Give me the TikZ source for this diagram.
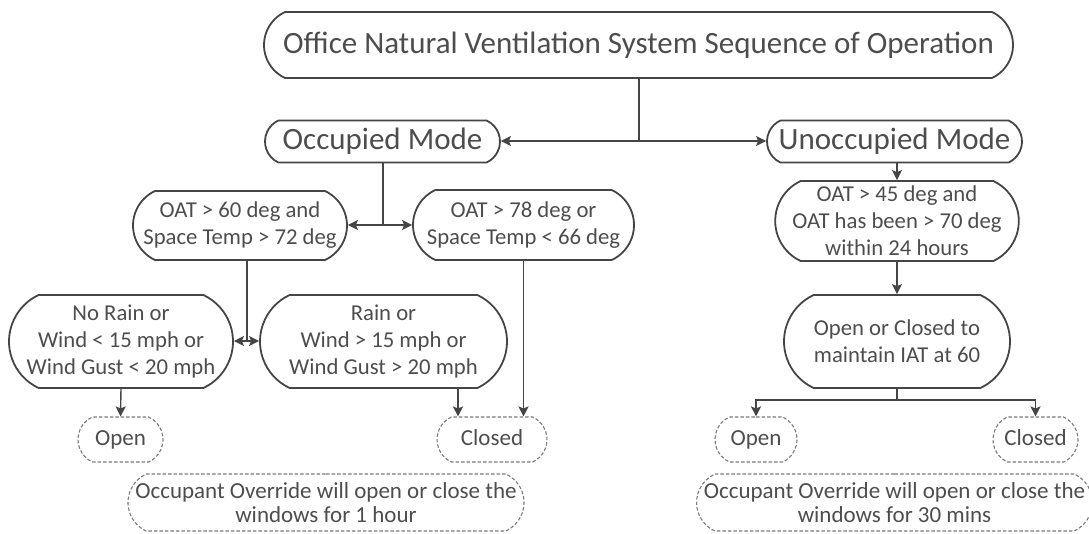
\documentclass[tikz,border=0pt]{standalone}
\usepackage{fontspec}
\setmainfont{Carlito}
\usetikzlibrary{shapes.misc,arrows.meta}
\definecolor{ln}{HTML}{454545}
\definecolor{tx}{HTML}{4D4D4D}
\definecolor{dsh}{HTML}{7A7A7A}
\begin{document}
\begin{tikzpicture}[x=1pt,y=-1pt,
  box/.style={rounded rectangle, rounded rectangle arc length=130, draw=ln, line width=1.8pt,
    text=tx, inner sep=0pt, align=center},
  dbox/.style={rounded rectangle, rounded rectangle arc length=130, draw=dsh,
    dash pattern=on 3.5pt off 2pt, line width=1.1pt, text=tx, inner sep=0pt, align=center},
  big/.style={font=\fontsize{31}{34}\selectfont},
  small/.style={font=\fontsize{22.7}{27}\selectfont},
  mid/.style={font=\fontsize{23}{24}\selectfont},
  con/.style={draw=ln, line width=1.4pt},
  arr/.style={con, -{Stealth[length=10pt,width=10pt,inset=2pt]}},
]
\useasboundingbox (0,0) rectangle (1089,533);

% nodes
\node[box, big, minimum width=749pt, minimum height=66pt] (title) at (638.5,45)
  {Office Natural Ventilation System Sequence of Operation};
\node[box, big, minimum width=235pt, minimum height=42pt] (occ) at (382.5,141.5) {Occupied Mode};
\node[box, big, minimum width=255pt, minimum height=42pt] (unocc) at (894.5,141.5) {Unoccupied Mode};

\node[box, small, minimum width=214pt, minimum height=69pt] (oat60) at (240,225.5)
  {OAT > 60 deg and\\Space Temp > 72 deg};
\node[box, small, minimum width=221pt, minimum height=70pt] (oat78) at (523.5,225)
  {OAT > 78 deg or\\Space Temp < 66 deg};
\node[box, small, minimum width=227pt, minimum height=80pt] (oat45) at (897,221)
  {OAT > 45 deg and\\OAT has been > 70 deg\\within 24 hours};

\node[box, small, minimum width=224pt, minimum height=93pt] (norain) at (121,341.5)
  {No Rain or\\Wind < 15 mph or\\Wind Gust < 20 mph};
\node[box, small, minimum width=247pt, minimum height=93pt] (rain) at (383.5,341.5)
  {Rain or\\Wind > 15 mph or\\Wind Gust > 20 mph};
\node[box, small, minimum width=226pt, minimum height=93pt] (oc) at (897,341.5)
  {Open or Closed to\\maintain IAT at 60};

\tikzset{lbl/.style={dbox, mid, minimum height=45pt, text height=16pt, text depth=5pt}}
\node[lbl, minimum width=85pt] (open1) at (120.5,439.5) {Open};
\node[lbl, minimum width=110pt] (closed1) at (492,439.5) {Closed};
\node[lbl, minimum width=82pt] (open2) at (756,439.5) {Open};
\node[lbl, minimum width=85pt] (closed2) at (1035.5,439.5) {Closed};

\node[dbox, mid, minimum width=396pt, minimum height=57pt] (ovr1) at (326,502.5)
  {Occupant Override will open or close the\\windows for 1 hour};
\node[dbox, mid, minimum width=385pt, minimum height=57pt] (ovr2) at (894.5,502.5)
  {Occupant Override will open or close the\\windows for 30 mins};

% junctions
\coordinate (j1) at (639,141);
\coordinate (j2) at (383,225);
\coordinate (j3) at (247,341);
\coordinate (j4) at (897,400);

% connectors
\draw[con] (title.south -| j1) -- (j1);
\draw[arr] (j1) -- (occ.east |- j1);
\draw[arr] (j1) -- (unocc.west |- j1);

\draw[con] (occ.south -| j2) -- (j2);
\draw[arr] (j2) -- (oat60.east |- j2);
\draw[arr] (j2) -- (oat78.west |- j2);

\draw[con] (oat60.south -| j3) -- (j3);
\draw[arr] (j3) -- (norain.east |- j3);
\draw[arr] (j3) -- (rain.west |- j3);

\draw[arr] (norain.south) -- (open1.north);
\draw[arr] (rain.south -| 458,0) -- (closed1.north -| 458,0);
\draw[arr] (oat78.south) -- (closed1.north -| oat78.south);

\draw[arr] (unocc.south -| oat45.north) -- (oat45.north);
\draw[arr] (oat45.south) -- (oc.north);
\draw[con] (oc.south) -- (j4);
\draw[arr] (j4) -| (open2.north);
\draw[arr] (j4) -| (closed2.north);
\end{tikzpicture}
\end{document}
